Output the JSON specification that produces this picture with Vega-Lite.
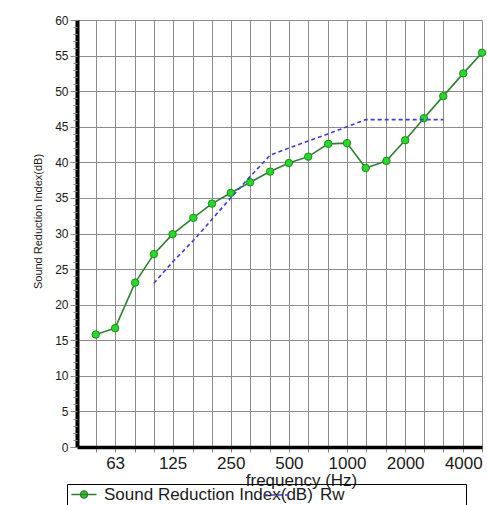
{
  "$schema": "https://vega.github.io/schema/vega-lite/v6.json",
  "width": 405,
  "height": 427,
  "autosize": {"type": "none"},
  "padding": {"left": 77, "top": 20, "right": 5, "bottom": 58},
  "background": "white",
  "config": {"font": "Liberation Sans", "view": {"stroke": null}},
  "data": {
    "values": [
      {"freq": 50, "value": 15.8, "series": "Sound Reduction Index(dB)"},
      {"freq": 63, "value": 16.7, "series": "Sound Reduction Index(dB)"},
      {"freq": 80, "value": 23.1, "series": "Sound Reduction Index(dB)"},
      {"freq": 100, "value": 27.1, "series": "Sound Reduction Index(dB)"},
      {"freq": 125, "value": 29.9, "series": "Sound Reduction Index(dB)"},
      {"freq": 160, "value": 32.2, "series": "Sound Reduction Index(dB)"},
      {"freq": 200, "value": 34.2, "series": "Sound Reduction Index(dB)"},
      {"freq": 250, "value": 35.7, "series": "Sound Reduction Index(dB)"},
      {"freq": 315, "value": 37.2, "series": "Sound Reduction Index(dB)"},
      {"freq": 400, "value": 38.7, "series": "Sound Reduction Index(dB)"},
      {"freq": 500, "value": 39.9, "series": "Sound Reduction Index(dB)"},
      {"freq": 630, "value": 40.8, "series": "Sound Reduction Index(dB)"},
      {"freq": 800, "value": 42.6, "series": "Sound Reduction Index(dB)"},
      {"freq": 1000, "value": 42.7, "series": "Sound Reduction Index(dB)"},
      {"freq": 1250, "value": 39.2, "series": "Sound Reduction Index(dB)"},
      {"freq": 1600, "value": 40.2, "series": "Sound Reduction Index(dB)"},
      {"freq": 2000, "value": 43.1, "series": "Sound Reduction Index(dB)"},
      {"freq": 2500, "value": 46.2, "series": "Sound Reduction Index(dB)"},
      {"freq": 3150, "value": 49.3, "series": "Sound Reduction Index(dB)"},
      {"freq": 4000, "value": 52.5, "series": "Sound Reduction Index(dB)"},
      {"freq": 5000, "value": 55.4, "series": "Sound Reduction Index(dB)"},
      {"freq": 100, "value": 23, "series": "Rw"},
      {"freq": 125, "value": 26, "series": "Rw"},
      {"freq": 160, "value": 29, "series": "Rw"},
      {"freq": 200, "value": 32, "series": "Rw"},
      {"freq": 250, "value": 35, "series": "Rw"},
      {"freq": 315, "value": 38, "series": "Rw"},
      {"freq": 400, "value": 41, "series": "Rw"},
      {"freq": 500, "value": 42, "series": "Rw"},
      {"freq": 630, "value": 43, "series": "Rw"},
      {"freq": 800, "value": 44, "series": "Rw"},
      {"freq": 1000, "value": 45, "series": "Rw"},
      {"freq": 1250, "value": 46, "series": "Rw"},
      {"freq": 1600, "value": 46, "series": "Rw"},
      {"freq": 2000, "value": 46, "series": "Rw"},
      {"freq": 2500, "value": 46, "series": "Rw"},
      {"freq": 3150, "value": 46, "series": "Rw"}
    ]
  },
  "encoding": {
    "x": {
      "field": "freq",
      "type": "quantitative",
      "scale": {"type": "log", "domain": [40, 5000], "nice": false},
      "axis": {
        "values": [50, 63, 80, 100, 125, 160, 200, 250, 315, 400, 500, 630, 800, 1000, 1250, 1600, 2000, 2500, 3150, 4000, 5000],
        "format": "d",
        "labelExpr": "indexof([63,125,250,500,1000,2000,4000], datum.value) >= 0 ? datum.label : ''",
        "labelFontSize": 17,
        "labelColor": "#1a1a1a",
        "labelPadding": 3,
        "labelFlush": false,
        "labelOverlap": false,
        "tickColor": "#888888",
        "tickSize": 5,
        "grid": true,
        "gridColor": "#8c8c8c",
        "gridWidth": 1,
        "domainColor": "black",
        "domainWidth": 3.5,
        "title": "frequency (Hz)",
        "titleFontSize": 17,
        "titleFontWeight": "normal",
        "titleColor": "#1a1a1a",
        "titleX": 224,
        "titleY": 38,
        "titleBaseline": "alphabetic",
        "titleAlign": "center"
      }
    },
    "y": {
      "field": "value",
      "type": "quantitative",
      "scale": {"domain": [0, 60], "nice": false}
    }
  },
  "layer": [
    {
      "transform": [{"filter": "datum.series === 'Sound Reduction Index(dB)'"}],
      "mark": {"type": "line", "strokeWidth": 1.6},
      "encoding": {
        "y": {
          "field": "value",
          "type": "quantitative",
          "scale": {"domain": [0, 60], "nice": false},
          "axis": {
            "orient": "left",
            "values": [0, 5, 10, 15, 20, 25, 30, 35, 40, 45, 50, 55, 60],
            "labelFontSize": 12,
            "labelColor": "#1a1a1a",
            "labelPadding": 2,
            "tickSize": 7,
            "tickColor": "#888888",
            "grid": true,
            "gridColor": "#8c8c8c",
            "gridWidth": 1,
            "domainColor": "black",
            "domainWidth": 4,
            "title": "Sound Reduction Index(dB)",
            "titleFontSize": 11,
            "titleFontWeight": "normal",
            "titleColor": "#1a1a1a",
            "titleAngle": -90,
            "titleX": -39,
            "titleY": 201,
            "titleAlign": "center",
            "titleBaseline": "middle"
          }
        },
        "color": {
          "field": "series",
          "type": "nominal",
          "scale": {"domain": ["Sound Reduction Index(dB)"], "range": ["#2f7f2f"]},
          "legend": {
            "orient": "none",
            "legendX": -10,
            "legendY": 464,
            "direction": "horizontal",
            "title": "MMMMMMMMMM",
            "titleOrient": "right",
            "titleOpacity": 0,
            "titleFontSize": 17,
            "titlePadding": 9,
            "strokeColor": "black",
            "padding": 2,
            "labelFontSize": 17,
            "labelColor": "#1a1a1a",
            "labelOffset": 18,
            "labelLimit": 0,
            "symbolSize": 100,
            "symbolStrokeWidth": 1.5,
            "encode": {
              "symbols": {
                "update": {
                  "shape": {"value": "M-1.2,0H3.8M0.6,0A0.7,0.7,0,1,0,2,0A0.7,0.7,0,1,0,0.6,0Z"},
                  "fill": {"value": "#22dd22"},
                  "stroke": {"value": "#2f7f2f"},
                  "strokeWidth": {"value": 1.5},
                  "size": {"value": 100},
                  "opacity": {"value": 1}
                }
              }
            }
          }
        }
      }
    },
    {
      "transform": [{"filter": "datum.series === 'Sound Reduction Index(dB)'"}],
      "mark": {"type": "point", "filled": true, "fill": "#22dd22", "stroke": "#1f8a1f", "strokeWidth": 1, "size": 55, "opacity": 1},
      "encoding": {
        "y": {
          "field": "value",
          "type": "quantitative",
          "scale": {"domain": [0, 60], "nice": false},
          "axis": {
            "orient": "left",
            "values": [0, 1, 2, 3, 4, 5, 6, 7, 8, 9, 10, 11, 12, 13, 14, 15, 16, 17, 18, 19, 20, 21, 22, 23, 24, 25, 26, 27, 28, 29, 30, 31, 32, 33, 34, 35, 36, 37, 38, 39, 40, 41, 42, 43, 44, 45, 46, 47, 48, 49, 50, 51, 52, 53, 54, 55, 56, 57, 58, 59, 60],
            "labels": false,
            "domain": false,
            "grid": false,
            "tickSize": 4,
            "tickColor": "#888888",
            "title": null
          }
        }
      }
    },
    {
      "transform": [{"filter": "datum.series === 'Rw'"}],
      "mark": {"type": "line", "strokeWidth": 1.6, "color": "#3c3cdc"},
      "encoding": {
        "y": {
          "field": "value",
          "type": "quantitative",
          "scale": {"domain": [0, 60], "nice": false},
          "axis": null
        },
        "strokeDash": {
          "field": "series",
          "type": "nominal",
          "scale": {"domain": ["Rw"], "range": [[4, 3]]},
          "legend": {
            "orient": "none",
            "legendX": 186,
            "legendY": 461.5,
            "title": null,
            "padding": 0,
            "labelFontSize": 17,
            "labelColor": "#1a1a1a",
            "labelOffset": 30,
            "symbolType": "M-1,0H1",
            "symbolSize": 625,
            "symbolStrokeColor": "#3c3cdc",
            "symbolStrokeWidth": 1.5
          }
        }
      }
    }
  ],
  "resolve": {"axis": {"y": "independent"}}
}
